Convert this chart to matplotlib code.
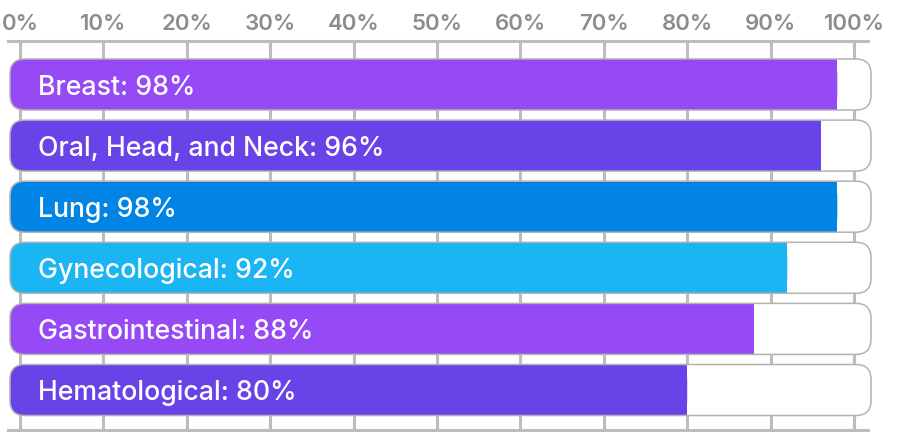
import matplotlib.pyplot as plt
from matplotlib.patches import FancyBboxPatch, Rectangle

categories = ["Breast", "Oral, Head, and Neck", "Lung", "Gynecological",
              "Gastrointestinal", "Hematological"]
values = [98, 96, 98, 92, 88, 80]
colors = ["#954af6", "#6844e8", "#0284e4", "#1bb5f3", "#954af6", "#6844e8"]
ticks = list(range(0, 101, 10))

GRID = "#bdbdbd"
EDGE = "#b3b3b3"
TICK_TXT = "#8c8c8c"

plt.rcParams["font.family"] = ["Inter", "DejaVu Sans"]

W, H = 905, 432
fig = plt.figure(figsize=(W / 100, H / 100), dpi=100)
# axes spans the gray rule lines: x 8..868 px, y 41..430 px
ax = fig.add_axes([8 / W, 2 / H, 860 / W, 389 / H])

px_per_pct = 8.34
px_per_row = 61.1
ax.set_xlim((8 - 20) / px_per_pct, (868 - 20) / px_per_pct)
ax.set_ylim((430 - 84.5) / px_per_row, (41 - 84.5) / px_per_row)

for s in ("left", "right"):
    ax.spines[s].set_visible(False)
for s in ("top", "bottom"):
    ax.spines[s].set_color(GRID)
    ax.spines[s].set_linewidth(2.2)

ax.set_xticks(ticks)
ax.set_xticklabels([f"{t}%" for t in ticks], fontweight="semibold")
ax.xaxis.tick_top()
ax.tick_params(axis="x", length=0, pad=5, labelsize=16, labelcolor=TICK_TXT)
ax.set_yticks([])
ax.grid(axis="x", color=GRID, lw=2.2, zorder=0)
ax.set_axisbelow(True)

bar_h = 51 / px_per_row
x0 = (10 - 20) / px_per_pct          # track start, a little left of 0%
x1 = (871 - 20) / px_per_pct         # track end, a little right of 100%
r = 15 / px_per_pct                  # corner radius in x units
aspect = px_per_pct / px_per_row

for i, (cat, val, col) in enumerate(zip(categories, values, colors)):
    y = i - bar_h / 2
    track = FancyBboxPatch((x0, y), x1 - x0, bar_h,
                           boxstyle=f"round,pad=0,rounding_size={r}",
                           mutation_aspect=aspect, fc="white", ec="none",
                           zorder=2, clip_on=False)
    ax.add_patch(track)
    fill = FancyBboxPatch((x0, y), val - x0, bar_h,
                          boxstyle=f"round,pad=0,rounding_size={r}",
                          mutation_aspect=aspect, fc=col, ec="none",
                          zorder=3, clip_on=False)
    ax.add_patch(fill)
    ax.add_patch(Rectangle((val - 2 * r, y), 2 * r, bar_h, fc=col, ec="none",
                           zorder=3, clip_on=False))
    outline = FancyBboxPatch((x0, y), x1 - x0, bar_h,
                             boxstyle=f"round,pad=0,rounding_size={r}",
                             mutation_aspect=aspect, fc="none", ec=EDGE,
                             lw=1.1, zorder=4, clip_on=False)
    ax.add_patch(outline)
    ax.text((38 - 20) / px_per_pct, i + 10.5 / px_per_row, f"{cat}: {val}%",
            color="white", fontsize=19.2, fontweight="medium",
            va="baseline", ha="left", zorder=5)

fig.savefig("out.png", dpi=100)
